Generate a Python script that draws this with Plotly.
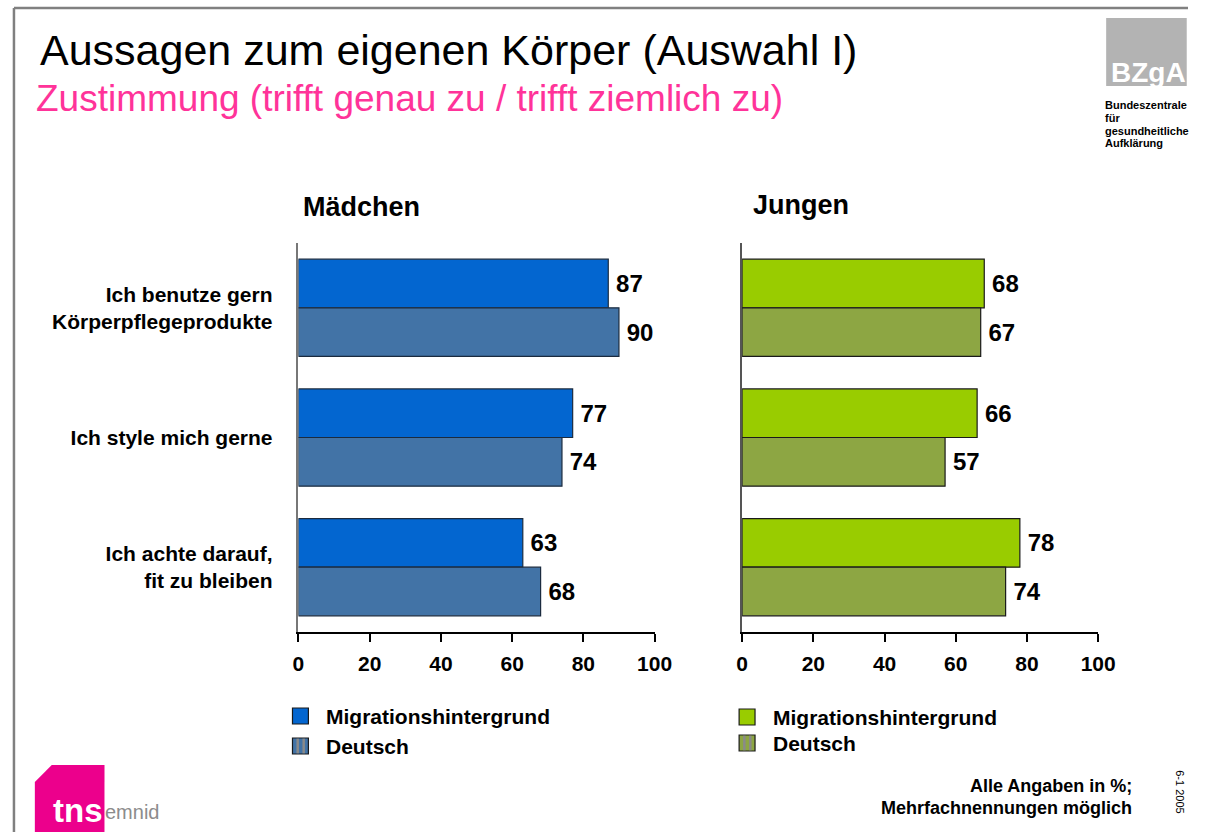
import plotly.graph_objects as go

# ---------------- data ----------------
categories = ["Ich benutze gern<br>Körperpflegeprodukte", "Ich style mich gerne", "Ich achte darauf,<br>fit zu bleiben"]
maedchen_migration = [87, 77, 63]
maedchen_deutsch = [90, 74, 68]
jungen_migration = [68, 66, 78]
jungen_deutsch = [67, 57, 74]
series_names = ["Migrationshintergrund", "Deutsch"]
x_ticks = [0, 20, 40, 60, 80, 100]

W, H = 1206, 832
SC = 1224 / 1206  # horizontal compensation observed in the rendered photo
FONT = "Liberation Sans, Arial, sans-serif"


def px(x):
    return min(x * SC, W) / W


def py(y):
    return 1 - y / H


C_M_MIG = "#0366D0"
C_M_DEU = "#4273A6"
C_J_MIG = "#99CC00"
C_J_DEU = "#8DA643"

fig = go.Figure()


def add_bars(vals, name, color, line_color, xa, ya):
    fig.add_trace(go.Bar(
        y=categories, x=vals, orientation="h", name=name,
        marker=dict(color=color, line=dict(color=line_color, width=1.2)),
        text=["\u2009" + str(v) for v in vals], textposition="outside",
        textfont=dict(family=FONT, size=24, color="black", weight="bold"),
        constraintext="none", cliponaxis=False,
        xaxis=xa, yaxis=ya, showlegend=False, hoverinfo="skip",
    ))


add_bars(maedchen_migration, series_names[0], C_M_MIG, "#1b2b3f", "x", "y")
add_bars(maedchen_deutsch, series_names[1], C_M_DEU, "#1b2b3f", "x", "y")
add_bars(jungen_migration, series_names[0], C_J_MIG, "#1a1a1a", "x2", "y2")
add_bars(jungen_deutsch, series_names[1], C_J_DEU, "#1a1a1a", "x2", "y2")

tickfont = dict(family=FONT, size=21, color="black", weight="bold")
xaxis_common = dict(
    range=[0, 100], tickvals=x_ticks, ticktext=[str(t) for t in x_ticks],
    showgrid=False, zeroline=False, showline=True, linecolor="black", linewidth=1.5,
    ticks="outside", ticklen=8, tickwidth=1.5, tickcolor="black", tickfont=tickfont,
    ticklabelstandoff=4,
)
y_dom = [py(632), py(243)]

fig.update_layout(
    width=W, height=H, autosize=False,
    margin=dict(l=0, r=0, t=0, b=0),
    paper_bgcolor="white", plot_bgcolor="white",
    barmode="group", bargap=0.25, bargroupgap=0,
    xaxis=dict(domain=[px(294), px(652)], anchor="y", **xaxis_common),
    xaxis2=dict(domain=[px(740), px(1098)], anchor="y2", **xaxis_common),
    yaxis=dict(domain=y_dom, anchor="x", autorange="reversed", showgrid=False, zeroline=False,
               showline=True, linecolor="#777777", linewidth=1.5, ticks="",
               tickfont=dict(family=FONT, size=21, color="black", weight="bold"),
               ticklabelstandoff=20),
    yaxis2=dict(domain=y_dom, anchor="x2", autorange="reversed", showgrid=False, zeroline=False,
                showline=True, linecolor="#555555", linewidth=1.5, ticks="", showticklabels=False),
    showlegend=False,
)

shapes = []
annotations = []

# frame
shapes.append(dict(type="line", xref="paper", yref="paper", x0=px(8), x1=1, y0=py(8), y1=py(8),
                   line=dict(color="#808080", width=2.5)))
shapes.append(dict(type="line", xref="paper", yref="paper", x0=px(8), x1=px(8), y0=py(8), y1=py(832),
                   line=dict(color="#808080", width=2.5)))

# titles
annotations.append(dict(text="Aussagen zum eigenen Körper (Auswahl I)", xref="paper", yref="paper",
                        x=px(32), y=py(50), xanchor="left", yanchor="middle", showarrow=False,
                        font=dict(family=FONT, size=43, color="black")))
annotations.append(dict(text="Zustimmung (trifft genau zu / trifft ziemlich zu)", xref="paper", yref="paper",
                        x=px(28), y=py(98), xanchor="left", yanchor="middle", showarrow=False,
                        font=dict(family=FONT, size=37, color="#FF3399")))

# panel titles
annotations.append(dict(text="Mädchen", xref="paper", yref="paper", x=px(297), y=py(207),
                        xanchor="left", yanchor="middle", showarrow=False,
                        font=dict(family=FONT, size=27, color="black", weight="bold")))
annotations.append(dict(text="Jungen", xref="paper", yref="paper", x=px(749), y=py(205),
                        xanchor="left", yanchor="middle", showarrow=False,
                        font=dict(family=FONT, size=27, color="black", weight="bold")))


# legends
def legend_item(x, y, color, label, striped, stripe_color):
    shapes.append(dict(type="rect", xref="paper", yref="paper", x0=px(x), x1=px(x + 16),
                       y0=py(y - 8), y1=py(y + 8), fillcolor=color,
                       line=dict(color="#1a1a1a", width=1.2)))
    if striped:
        for sx in (x + 4, x + 10):
            shapes.append(dict(type="rect", xref="paper", yref="paper", x0=px(sx), x1=px(sx + 2.5),
                               y0=py(y - 7.3), y1=py(y + 7.3), fillcolor=stripe_color,
                               line=dict(width=0)))
    annotations.append(dict(text=label, xref="paper", yref="paper", x=px(x + 32), y=py(y),
                            xanchor="left", yanchor="middle", showarrow=False,
                            font=dict(family=FONT, size=21, color="black", weight="bold")))


legend_item(288, 716, C_M_MIG, series_names[0], False, None)
legend_item(288, 746, C_M_DEU, series_names[1], True, "#8a8a8a")
legend_item(737, 717, C_J_MIG, series_names[0], False, None)
legend_item(737, 743, C_J_DEU, series_names[1], True, "#8a8a8a")

# BZgA logo (squeezed slightly to stay inside the visible area)
shapes.append(dict(type="rect", xref="paper", yref="paper", x0=px(1106), x1=px(1187), y0=py(86), y1=py(18),
                   fillcolor="#B3B3B3", line=dict(width=0)))
annotations.append(dict(text="BZgA", xref="paper", yref="paper", x=px(1188), y=py(73),
                        xanchor="right", yanchor="middle", showarrow=False,
                        font=dict(family=FONT, size=28, color="white", weight="bold")))
for i, line in enumerate(["Bundeszentrale", "für", "gesundheitliche", "Aufklärung"]):
    annotations.append(dict(text=line, xref="paper", yref="paper", x=px(1103), y=py(105 + i * 12.8),
                            xanchor="left", yanchor="middle", showarrow=False,
                            font=dict(family=FONT, size=11, color="black", weight="bold")))

# tns emnid logo
shapes.append(dict(type="path", xref="paper", yref="paper",
                   path=f"M {px(29)} {py(782)} L {px(46)} {py(765)} L {px(99)} {py(765)} L {px(99)} {py(832)} L {px(29)} {py(832)} Z",
                   fillcolor="#EC008C", line=dict(width=0)))
annotations.append(dict(text="tns", xref="paper", yref="paper", x=px(45), y=py(810),
                        xanchor="left", yanchor="middle", showarrow=False,
                        font=dict(family=FONT, size=33, color="white", weight="bold")))
annotations.append(dict(text="emnid", xref="paper", yref="paper", x=px(98), y=py(812),
                        xanchor="left", yanchor="middle", showarrow=False,
                        font=dict(family=FONT, size=20, color="#8C8C8C")))

# footnote
annotations.append(dict(text="Alle Angaben in %;", xref="paper", yref="paper", x=px(1134), y=py(786),
                        xanchor="right", yanchor="middle", showarrow=False,
                        font=dict(family=FONT, size=18, color="black", weight="bold")))
annotations.append(dict(text="Mehrfachnennungen möglich", xref="paper", yref="paper", x=px(1134), y=py(808),
                        xanchor="right", yanchor="middle", showarrow=False,
                        font=dict(family=FONT, size=18, color="black", weight="bold")))
annotations.append(dict(text="6-1 2005", xref="paper", yref="paper", x=px(1180), y=py(792),
                        xanchor="center", yanchor="middle", showarrow=False, textangle=90,
                        font=dict(family=FONT, size=11, color="black")))

fig.update_layout(shapes=shapes, annotations=annotations)
post = ("document.documentElement.style.overflow='hidden';document.documentElement.style.margin='0';"
        "document.body.style.margin='0';document.body.style.padding='0';document.body.style.overflow='hidden';")
fig.write_html("out.html", config={"displayModeBar": False}, post_script=post)
